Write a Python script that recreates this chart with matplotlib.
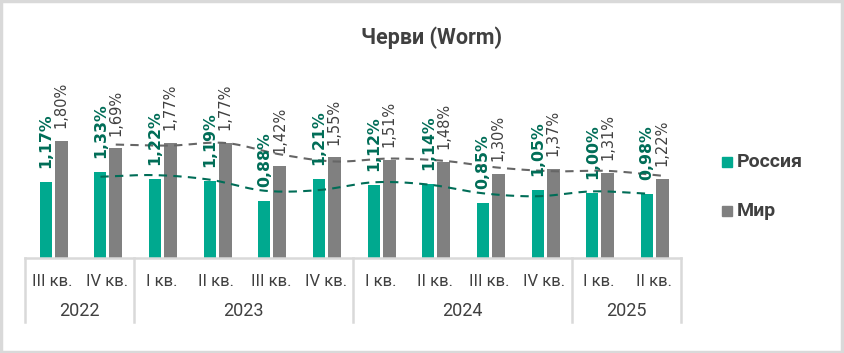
import matplotlib
matplotlib.use("Agg")
import matplotlib.pyplot as plt
from matplotlib.patches import Rectangle
import numpy as np

# data
quarters = ["III кв.", "IV кв.", "I кв.", "II кв.", "III кв.", "IV кв.",
            "I кв.", "II кв.", "III кв.", "IV кв.", "I кв.", "II кв."]
years = ["2022", "2023", "2024", "2025"]
year_counts = [2, 4, 4, 2]
russia = [1.17, 1.33, 1.22, 1.19, 0.88, 1.21, 1.12, 1.14, 0.85, 1.05, 1.00, 0.98]
world = [1.80, 1.69, 1.77, 1.77, 1.42, 1.55, 1.51, 1.48, 1.30, 1.37, 1.31, 1.22]

GREEN = "#00a98f"
GREEN_DARK = "#006d57"
GRAY = "#808080"
TXT = "#404040"
LINE = "#d9d9d9"

plt.rcParams['font.family'] = ['Roboto', 'DejaVu Sans']
NARROW = ['Liberation Sans Narrow', 'Roboto', 'DejaVu Sans']


def fmt(v):
    return ("%.2f%%" % v).replace(".", ",")


def smooth(xs, ys, n=20):
    # catmull-rom through the moving average points
    xs = np.asarray(xs, float)
    ys = np.asarray(ys, float)
    px = np.concatenate([[2 * xs[0] - xs[1]], xs, [2 * xs[-1] - xs[-2]]])
    py = np.concatenate([[2 * ys[0] - ys[1]], ys, [2 * ys[-1] - ys[-2]]])
    ox, oy = [], []
    for i in range(1, len(px) - 2):
        t = np.linspace(0, 1, n, endpoint=False)
        for p, o in ((px, ox), (py, oy)):
            p0, p1, p2, p3 = p[i - 1], p[i], p[i + 1], p[i + 2]
            o.extend(0.5 * ((2 * p1) + (-p0 + p2) * t
                            + (2 * p0 - 5 * p1 + 4 * p2 - p3) * t ** 2
                            + (-p0 + 3 * p1 - 3 * p2 + p3) * t ** 3))
    ox.append(xs[-1])
    oy.append(ys[-1])
    return ox, oy


W, H = 844, 353
fig = plt.figure(figsize=(W / 100, H / 100), dpi=100)
fig.patches.append(Rectangle((0.001, 0.002), 0.997, 0.995, transform=fig.transFigure,
                             fill=False, edgecolor=LINE, linewidth=2.5))

left, right, bottom, top = 25, 681, 258, 60
ax = fig.add_axes([left / W, 1 - bottom / H, (right - left) / W, (bottom - top) / H])
ax_h = bottom - top
ax.set_xlim(-0.5, len(quarters) - 0.5)
ax.set_ylim(0, ax_h / 65.0)

x = np.arange(len(quarters))
og, ow = -0.12, 0.16
ax.bar(x + og, russia, width=0.22, color=GREEN, zorder=2)
ax.bar(x + ow, world, width=0.238, color=GRAY, zorder=2)

for xi, v in zip(x, russia):
    ax.annotate(fmt(v), (xi + og, v), xytext=(0, 10), textcoords="offset points",
                rotation=90, ha="center", va="bottom", fontsize=11.3,
                fontweight="bold", color=GREEN_DARK, family=['DejaVu Sans'], zorder=4)
for xi, v in zip(x, world):
    ax.annotate(fmt(v), (xi + ow, v), xytext=(0, 9), textcoords="offset points",
                rotation=90, ha="center", va="bottom", fontsize=10.5,
                color=TXT, family=['DejaVu Sans'], zorder=4)

# moving average (period 2) trendlines
ma_r = [(russia[i - 1] + russia[i]) / 2 for i in range(1, len(russia))]
ma_w = [(world[i - 1] + world[i]) / 2 for i in range(1, len(world))]
sx, sy = smooth(x[1:] + og, ma_r)
ax.plot(sx, sy, ls=(0, (4, 3)), color=GREEN_DARK, lw=1.5, zorder=3)
sx, sy = smooth(x[1:] + ow, ma_w)
ax.plot(sx, sy, ls=(0, (4, 3)), color="#666666", lw=1.5, zorder=3)

for s in ["top", "right", "left"]:
    ax.spines[s].set_visible(False)
ax.spines["bottom"].set_color(LINE)
ax.spines["bottom"].set_linewidth(1.8)
ax.set_yticks([])
ax.set_xticks(x)
ax.set_xticklabels([])
ax.tick_params(axis="x", length=0)

tr = ax.get_xaxis_transform()
for xi, q in zip(x, quarters):
    ax.text(xi, -23 / ax_h, q, transform=tr, ha="center", va="center",
            fontsize=12, color=TXT, family=NARROW)

edges = np.concatenate([[0], np.cumsum(year_counts)]) - 0.5
for e in edges:
    ax.plot([e, e], [0, -64 / ax_h], transform=tr, color=LINE, lw=1.8, clip_on=False)
for i, yname in enumerate(years):
    c = (edges[i] + edges[i + 1]) / 2
    ax.text(c, -53 / ax_h, yname, transform=tr, ha="center", va="center",
            fontsize=13, color=TXT, family=NARROW)

fig.text(432 / W, 1 - 38 / H, "Черви (Worm)", ha="center", va="center",
         fontsize=15.5, fontweight="bold", color=TXT)

# legend
for label, col, yy in (("Россия", GREEN, 162), ("Мир", GRAY, 211)):
    fig.patches.append(Rectangle((722 / W, 1 - (yy + 5) / H), 10 / W, 10 / H,
                                 transform=fig.transFigure, color=col))
    fig.text(737 / W, 1 - yy / H, label, ha="left", va="center",
             fontsize=14, fontweight="bold", color=TXT)

fig.savefig("out.png", dpi=100)
